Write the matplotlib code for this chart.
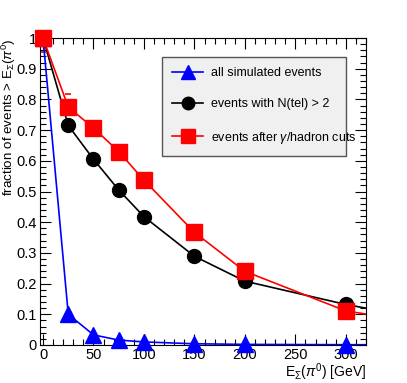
import matplotlib
matplotlib.use('Agg')
from matplotlib import pyplot as plt
from matplotlib.ticker import MultipleLocator
import numpy as np

# energie progowe [GeV]
energy = [0, 25, 50, 75, 100, 150, 200, 300, 400]
frac_all = [1.0, 0.10, 0.033, 0.016, 0.010, 0.004, 0.002, 0.001, 0.0005]
frac_ntel = [1.0, 0.715, 0.605, 0.505, 0.418, 0.289, 0.208, 0.132, 0.072]
frac_cuts = [1.0, 0.775, 0.707, 0.630, 0.537, 0.367, 0.240, 0.111, 0.060]
# krotkie kreski bledow widoczne przy czerwonych punktach
cut_err_x = [0, 25]
cut_err_y = [0.954, 0.816]

labels = ['all simulated events', 'events with N(tel) > 2',
          r'events after $\gamma$/hadron cuts']

plt.rcParams['font.family'] = ['Liberation Sans', 'DejaVu Sans']
plt.rcParams['mathtext.fontset'] = 'custom'
plt.rcParams['mathtext.rm'] = 'Liberation Sans'
plt.rcParams['mathtext.it'] = 'Liberation Sans:italic'

fig = plt.figure(figsize=(4.07, 3.83), dpi=100)
ax = fig.add_axes([40/407, 38/383, 326/407, 307/383])

xmax = 320
e = np.array(energy)
widoczne = e <= xmax
series = [(frac_all, '^', 'blue', 11, 3), (frac_ntel, 'o', 'black', 10, 4),
          (frac_cuts, 's', 'red', 11.5, 5)]
for (y, m, c, ms, z), lab in zip(series, labels):
    y = np.array(y)
    # linia przycieta do ramki, markery nie
    ax.plot(e, y, '-', color=c, lw=1.2, zorder=z)
    ax.plot(e[widoczne], y[widoczne], m, color=c, ms=ms, zorder=z, clip_on=False)
    ax.plot([], [], '-' + m, color=c, lw=1.2, ms=ms, label=lab)
ax.plot(cut_err_x, cut_err_y, '_', color='red', ms=5, mew=1.2, zorder=2)

ax.set_xlim(-3, xmax)
ax.set_ylim(0, 1.0)
ax.xaxis.set_major_locator(MultipleLocator(50))
ax.xaxis.set_minor_locator(MultipleLocator(10))
ax.yaxis.set_minor_locator(MultipleLocator(0.02))
ax.set_yticks(np.arange(0, 1.01, 0.1))
ax.set_yticklabels(['0', '0.1', '0.2', '0.3', '0.4', '0.5', '0.6', '0.7', '0.8', '0.9', '1'])
ax.tick_params(which='both', direction='in', top=True, right=True, labelsize=10.5)
ax.tick_params(which='major', length=8, width=0.8)
ax.tick_params(which='minor', length=4, width=0.8)
ax.tick_params(axis='x', pad=2.5)
ax.tick_params(axis='y', pad=2.5)

ax.set_xlabel(r'E$_{\Sigma}$($\pi^{0}$) [GeV]', fontsize=10, loc='right')
ax.xaxis.set_label_coords(1.0, -0.055)
ax.set_ylabel(r'fraction of events > E$_{\Sigma}$($\pi^{0}$)', fontsize=9.6, loc='top')
ax.yaxis.set_label_coords(-0.067, 1.0)

leg = ax.legend(loc='upper left', bbox_to_anchor=(0.374, 0.625, 0.565, 0.313),
                mode='expand', fontsize=9, handlelength=2.5, handletextpad=0.6,
                labelspacing=1.55, borderpad=0.8, borderaxespad=0,
                fancybox=False, framealpha=1, markerscale=0.9)
leg.get_frame().set_facecolor('#f0f0f0')
leg.get_frame().set_edgecolor('#555555')
leg.get_frame().set_linewidth(1.0)

plt.savefig('out.png', dpi=100)
